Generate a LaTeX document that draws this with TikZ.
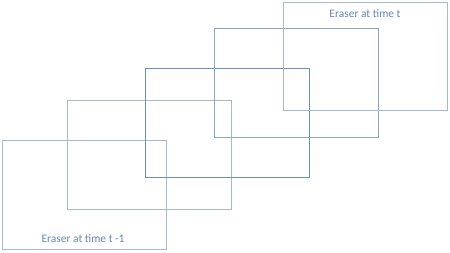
\documentclass[tikz,border=0pt]{standalone}
\usepackage{fontspec}
\setmainfont{Carlito}
\usepackage{xcolor}
\usetikzlibrary{positioning}

\definecolor{frameblue}{HTML}{A9B8CC}
\definecolor{midblue}{HTML}{8DA4C2}
\definecolor{deepblue}{HTML}{6A90C0}
\definecolor{textblue}{HTML}{6587B3}

\begin{document}
\begin{tikzpicture}[
  x=1bp, y=-1bp,
  frm/.style={draw=frameblue, line width=0.9bp, minimum width=164bp, minimum height=109bp, inner sep=0pt},
  lbl/.style={font=\fontsize{11.5}{13}\selectfont, text=textblue, inner sep=0pt}
]
\useasboundingbox (0,0) rectangle (450,252);
\node[frm] (frame1) at (84,194.5) {};
\node[frm] (frame2) at (149,154.5) {};
\node[frm, draw=deepblue] (frame3) at (227,122.5) {};
\node[frm, draw=midblue] (frame4) at (296,82.5) {};
\node[frm, minimum height=108bp] (frame5) at (365,56) {};
\node[lbl, above=7bp of frame1.south, xshift=-1bp] {Eraser at time t -1};
\node[lbl, below=8bp of frame5.north] {Eraser at time t};
\end{tikzpicture}
\end{document}
